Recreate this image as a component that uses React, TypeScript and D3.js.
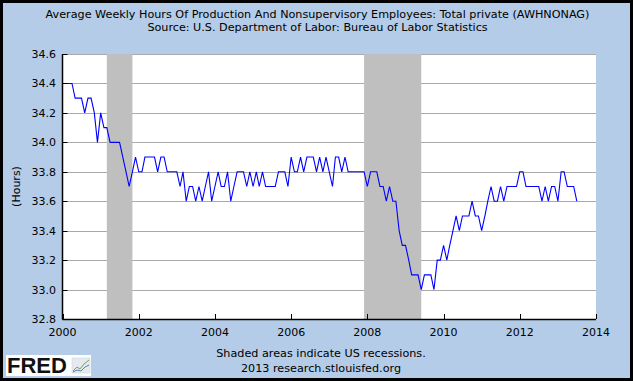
import React from "react";
import * as d3 from "d3";

const titleLines = [
  "Average Weekly Hours Of Production And Nonsupervisory Employees: Total private (AWHNONAG)",
  "Source: U.S. Department of Labor: Bureau of Labor Statistics",
];
const footerLines = ["Shaded areas indicate US recessions.", "2013 research.stlouisfed.org"];
const yAxisTitle = "(Hours)";

// Monthly values, starting January 2000
const startYear = 2000;
const hours = [
  34.4, 34.4, 34.4, 34.4, 34.3, 34.3, 34.3, 34.2, 34.3, 34.3, 34.2, 34.0,
  34.2, 34.1, 34.1, 34.0, 34.0, 34.0, 34.0, 33.9, 33.8, 33.7, 33.8, 33.9,
  33.8, 33.8, 33.9, 33.9, 33.9, 33.9, 33.8, 33.9, 33.9, 33.8, 33.8, 33.8,
  33.8, 33.7, 33.8, 33.6, 33.7, 33.7, 33.6, 33.7, 33.6, 33.7, 33.8, 33.6,
  33.7, 33.8, 33.7, 33.7, 33.8, 33.6, 33.7, 33.8, 33.8, 33.8, 33.7, 33.8,
  33.7, 33.8, 33.7, 33.8, 33.7, 33.7, 33.7, 33.7, 33.8, 33.8, 33.8, 33.7,
  33.9, 33.8, 33.8, 33.9, 33.8, 33.9, 33.9, 33.9, 33.8, 33.9, 33.8, 33.9,
  33.8, 33.7, 33.9, 33.9, 33.8, 33.9, 33.8, 33.8, 33.8, 33.8, 33.8, 33.8,
  33.7, 33.8, 33.8, 33.8, 33.7, 33.7, 33.6, 33.7, 33.6, 33.6, 33.4, 33.3,
  33.3, 33.2, 33.1, 33.1, 33.1, 33.0, 33.1, 33.1, 33.1, 33.0, 33.2, 33.2,
  33.3, 33.2, 33.3, 33.4, 33.5, 33.4, 33.5, 33.5, 33.5, 33.6, 33.5, 33.5,
  33.4, 33.5, 33.6, 33.7, 33.6, 33.6, 33.7, 33.6, 33.7, 33.7, 33.7, 33.7,
  33.8, 33.8, 33.7, 33.7, 33.7, 33.7, 33.7, 33.6, 33.7, 33.6, 33.7, 33.7,
  33.6, 33.8, 33.8, 33.7, 33.7, 33.7, 33.6,
];

const recessionStarts = ["2001-03-01", "2007-12-01"];
const recessionEnds = ["2001-11-01", "2009-06-01"];

const yTicks = [32.8, 33.0, 33.2, 33.4, 33.6, 33.8, 34.0, 34.2, 34.4, 34.6];
const xTickYears = [2000, 2002, 2004, 2006, 2008, 2010, 2012, 2014];

const W = 633;
const H = 381;
const FONT = "DejaVu Sans, Verdana, sans-serif";

export default function App() {
  const left = 62.5;
  const right = 596;
  const top = 54;
  const bottom = 319;

  const x = d3
    .scaleTime()
    .domain([new Date(2000, 0, 1), new Date(2014, 0, 1)])
    .range([left, right]);
  const y = d3.scaleLinear().domain([32.8, 34.6]).range([bottom, top]);

  const points: [Date, number][] = hours.map((v, i) => [new Date(startYear, i, 1), v]);
  const line = d3
    .line<[Date, number]>()
    .x((d) => x(d[0]))
    .y((d) => y(d[1]));

  const parse = d3.timeParse("%Y-%m-%d");

  return (
    <svg
      width={W}
      height={H}
      style={{ position: "absolute", left: 0, top: 0 }}
      xmlns="http://www.w3.org/2000/svg"
    >
      <rect x={0} y={0} width={W} height={H} fill="#000" />
      <rect x={3} y={3} width={W - 6} height={H - 6} fill="#B4CCE7" />

      {titleLines.map((t, i) => (
        <text
          key={i}
          x={317.5}
          y={18 + i * 13}
          textAnchor="middle"
          fontFamily={FONT}
          fontSize={11.2}
          fill="#000"
        >
          {t}
        </text>
      ))}

      <rect x={left} y={top} width={right - left} height={bottom - top} fill="#fff" />

      {yTicks.map((t) => (
        <line
          key={"g" + t}
          x1={left}
          x2={right}
          y1={Math.round(y(t)) + 0.5}
          y2={Math.round(y(t)) + 0.5}
          stroke="#AAAAAA"
          strokeWidth={1}
        />
      ))}

      {recessionStarts.map((s, i) => {
        const x0 = x(parse(s) as Date);
        const x1 = x(parse(recessionEnds[i]) as Date);
        return (
          <rect key={"r" + i} x={x0} y={top} width={x1 - x0} height={bottom - top} fill="#BFBFBF" />
        );
      })}

      <path d={line(points) || ""} fill="none" stroke="#0000FF" strokeWidth={1.1} />

      {/* axes */}
      <line x1={left} x2={left} y1={top} y2={bottom + 0.5} stroke="#000" strokeWidth={1.5} />
      <line x1={left} x2={right} y1={bottom + 0.5} y2={bottom + 0.5} stroke="#000" strokeWidth={1.5} />

      {yTicks.map((t) => (
        <g key={"yt" + t}>
          <line
            x1={left}
            x2={left + 5}
            y1={Math.round(y(t)) + 0.5}
            y2={Math.round(y(t)) + 0.5}
            stroke="#000"
          />
          <text
            x={56}
            y={y(t) + 4}
            textAnchor="end"
            fontFamily={FONT}
            fontSize={11}
            fill="#000"
          >
            {t.toFixed(1)}
          </text>
        </g>
      ))}

      {xTickYears.map((yr) => {
        const xx = Math.round(x(new Date(yr, 0, 1))) + 0.5;
        return (
          <g key={"xt" + yr}>
            <line x1={xx} x2={xx} y1={bottom} y2={bottom - 5} stroke="#000" />
            <text
              x={x(new Date(yr, 0, 1))}
              y={336}
              textAnchor="middle"
              fontFamily={FONT}
              fontSize={11}
              fill="#000"
            >
              {yr}
            </text>
          </g>
        );
      })}

      <text
        transform={`translate(20, ${(top + bottom) / 2}) rotate(-90)`}
        textAnchor="middle"
        fontFamily={FONT}
        fontSize={11}
        fill="#000"
      >
        {yAxisTitle}
      </text>

      {footerLines.map((t, i) => (
        <text
          key={"f" + i}
          x={321}
          y={357 + i * 15}
          textAnchor="middle"
          fontFamily={FONT}
          fontSize={11.2}
          fill="#000"
        >
          {t}
        </text>
      ))}

      {/* FRED logo */}
      <rect x={6} y={355} width={85} height={21} fill="#fff" />
      <text
        x={7}
        y={373}
        fontFamily="Liberation Sans, Arial, sans-serif"
        fontWeight="bold"
        fontSize={22}
        fill="#111"
      >
        FRED
      </text>
      <rect x={72} y={358} width={18} height={15} fill="#E4EAF0" stroke="#C8D0D8" strokeWidth={0.5} />
      <polyline points="73,371 77,367 80,369 84,364 89,360" fill="none" stroke="#6FA84A" strokeWidth={1} />
      <polyline points="73,372 77,370 81,371 85,367 89,365" fill="none" stroke="#5B7FB8" strokeWidth={1} />
    </svg>
  );
}
